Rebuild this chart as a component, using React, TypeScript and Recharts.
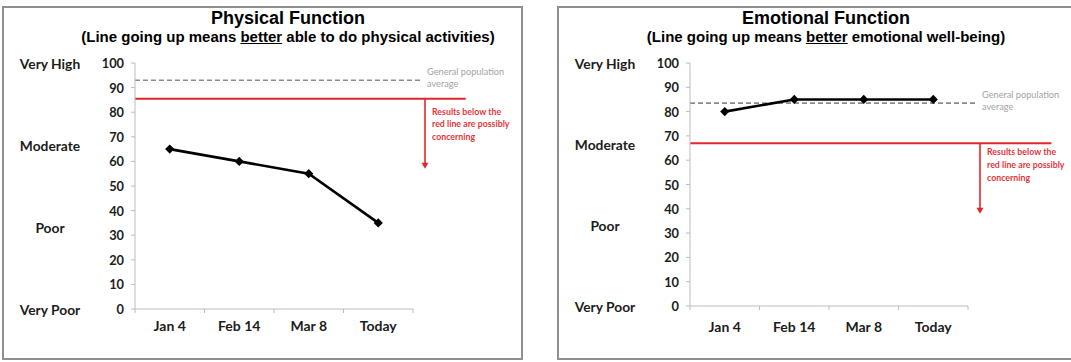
import React from 'react';
import { LineChart, Line, XAxis, YAxis, ReferenceLine, ReferenceArea } from 'recharts';

// Visit dates shown on the horizontal axis
const categories = ['Jan 4', 'Feb 14', 'Mar 8', 'Today'];

// Patient-reported scores per visit
const physicalScores = [65, 60, 55, 35];
const emotionalScores = [80, 85, 85, 85];

// Numeric score ticks and the qualitative level labels beside them
const scoreTicks = [0, 10, 20, 30, 40, 50, 60, 70, 80, 90, 100];
const levelTicks = [0, 100 / 3, 200 / 3, 100];
const levelLabels = ['Very Poor', 'Poor', 'Moderate', 'Very High'];

// Reference values for each scale
const physicalPopulationAverage = 93;
const physicalConcernThreshold = 85.5;
const physicalArrowEnd = 57;
const emotionalPopulationAverage = 83.5;
const emotionalConcernThreshold = 67;
const emotionalArrowEnd = 38;

// Annotation text
const populationNote = ['General population', 'average'];
const concernNote = ['Results below the', 'red line are possibly', 'concerning'];

const AXIS_COLOR = '#c2baba';
const TEXT_COLOR = '#1c1c1c';
const RED = '#e3262b';
const LABEL_FONT = 'Lato, "Open Sans", sans-serif';
const TITLE_FONT = '"Liberation Sans", Arial, sans-serif';

function ScoreTick(props: any) {
  const { x, y, payload } = props;
  return (
    <text
      x={x}
      y={y}
      textAnchor="end"
      dominantBaseline="central"
      fontFamily={LABEL_FONT}
      fontWeight={700}
      fontSize={12.8}
      fill={TEXT_COLOR}
    >
      {payload.value}
    </text>
  );
}

function LevelTick(props: any) {
  const { x, y, payload } = props;
  let idx = 0;
  levelTicks.forEach((t, i) => {
    if (Math.abs(t - payload.value) < Math.abs(levelTicks[idx] - payload.value)) idx = i;
  });
  return (
    <text
      x={x}
      y={y}
      textAnchor="middle"
      dominantBaseline="central"
      fontFamily={LABEL_FONT}
      fontWeight={700}
      fontSize={13.8}
      fill={TEXT_COLOR}
    >
      {levelLabels[idx]}
    </text>
  );
}

// Category label with Excel-style tick marks on the band boundaries
function makeCategoryTick(labelDy: number) {
  return function CategoryTick(props: any) {
    const { x, y, payload, index, visibleTicksCount, width } = props;
    let half = payload && typeof payload.offset === 'number' && payload.offset > 3 ? payload.offset : 0;
    if (!half && width && visibleTicksCount) half = width / visibleTicksCount / 2;
    return (
      <g>
        <line x1={x - half} x2={x - half} y1={y} y2={y + 4} stroke={AXIS_COLOR} strokeWidth={1} />
        {index === visibleTicksCount - 1 && (
          <line x1={x + half} x2={x + half} y1={y} y2={y + 4} stroke={AXIS_COLOR} strokeWidth={1} />
        )}
        <text
          x={x}
          y={y + labelDy}
          textAnchor="middle"
          dominantBaseline="central"
          fontFamily={LABEL_FONT}
          fontWeight={700}
          fontSize={14}
          fill={TEXT_COLOR}
        >
          {payload.value}
        </text>
      </g>
    );
  };
}

function Diamond(props: any) {
  const { cx, cy, index } = props;
  if (cx == null || cy == null) return null;
  const r = 4.6;
  return (
    <polygon
      key={`d-${index}`}
      points={`${cx},${cy - r} ${cx + r},${cy} ${cx},${cy + r} ${cx - r},${cy}`}
      fill="#000"
    />
  );
}

function makePopulationShape(extend: number) {
  return function PopulationShape(props: any) {
    const { x1, x2, y1 } = props;
    const end = x2 + extend;
    return (
      <g>
        <line x1={x1} x2={end} y1={y1} y2={y1} stroke="#8c8c8c" strokeWidth={1.6} strokeDasharray="5 3" />
        {populationNote.map((t, i) => (
          <text
            key={t}
            x={end + 5.6}
            y={y1 - 9 + i * 12.3}
            dominantBaseline="central"
            fontFamily={LABEL_FONT}
            fontSize={9.2}
            fill="#a3a3a3"
          >
            {t}
          </text>
        ))}
      </g>
    );
  };
}

function makeConcernLineShape(extend: number) {
  return function ConcernLineShape(props: any) {
    const { x1, x2, y1 } = props;
    return <line x1={x1} x2={x2 + extend} y1={y1} y2={y1} stroke={RED} strokeWidth={2} />;
  };
}

function makeConcernArrowShape(textDy: number) {
  return function ConcernArrowShape(props: any) {
    const { x, y, width, height } = props;
    const ax = x + width + 12;
    const bottom = y + height;
    return (
      <g>
        <line x1={ax} x2={ax} y1={y} y2={bottom - 5} stroke={RED} strokeWidth={1.6} />
        <polygon points={`${ax - 3.5},${bottom - 6} ${ax + 3.5},${bottom - 6} ${ax},${bottom}`} fill={RED} />
        {concernNote.map((t, i) => (
          <text
            key={t}
            x={ax + 7}
            y={y + textDy + i * 12.7}
            dominantBaseline="central"
            fontFamily={LABEL_FONT}
            fontWeight={700}
            fontSize={8.8}
            fill="#e5363b"
          >
            {t}
          </text>
        ))}
      </g>
    );
  };
}

interface FunctionChartProps {
  scores: number[];
  populationAverage: number;
  concernThreshold: number;
  arrowEnd: number;
  width: number;
  height: number;
  margin: { top: number; right: number; bottom: number; left: number };
  concernExtend: number;
  concernTextDy: number;
  labelDy: number;
}

function FunctionChart(p: FunctionChartProps) {
  const data = categories.map((c, i) => ({ category: c, score: p.scores[i] }));
  return (
    <LineChart width={p.width} height={p.height} data={data} margin={p.margin}>
      <XAxis
        dataKey="category"
        type="category"
        scale="band"
        height={30}
        interval={0}
        axisLine={{ stroke: AXIS_COLOR, strokeWidth: 1 }}
        tickLine={false}
        tickSize={0}
        tickMargin={0}
        tick={makeCategoryTick(p.labelDy)}
      />
      <YAxis
        type="number"
        domain={[0, 100]}
        ticks={scoreTicks}
        interval={0}
        width={47}
        axisLine={{ stroke: AXIS_COLOR, strokeWidth: 1 }}
        tickLine={{ stroke: AXIS_COLOR, strokeWidth: 1 }}
        tickSize={4}
        tickMargin={7}
        tick={ScoreTick}
      />
      <YAxis
        yAxisId="level"
        type="number"
        domain={[0, 100]}
        allowDataOverflow
        ticks={levelTicks}
        interval={0}
        width={85}
        axisLine={false}
        tickLine={false}
        tickSize={0}
        tickMargin={38}
        tick={LevelTick}
      />
      {/* anchors the level axis to the same 0-100 scale */}
      <ReferenceLine yAxisId="level" y={0} stroke="none" />
      <ReferenceLine y={p.populationAverage} shape={makePopulationShape(8.4)} />
      <ReferenceLine y={p.concernThreshold} shape={makeConcernLineShape(p.concernExtend)} />
      <ReferenceArea y1={p.arrowEnd} y2={p.concernThreshold} shape={makeConcernArrowShape(p.concernTextDy)} />
      <Line
        dataKey="score"
        stroke="#000"
        strokeWidth={2.6}
        dot={Diamond}
        activeDot={false}
        isAnimationActive={false}
      />
    </LineChart>
  );
}

function Title({ center, title, pre, post }: { center: number; title: string; pre: string; post: string }) {
  return (
    <>
      <div
        style={{
          position: 'absolute',
          left: center - 300,
          top: 7.7,
          width: 600,
          textAlign: 'center',
          fontFamily: TITLE_FONT,
          fontWeight: 700,
          fontSize: 18,
          lineHeight: '20px',
          color: '#000',
          whiteSpace: 'nowrap',
        }}
      >
        {title}
      </div>
      <div
        style={{
          position: 'absolute',
          left: center - 300,
          top: 27.5,
          width: 600,
          textAlign: 'center',
          fontFamily: TITLE_FONT,
          fontWeight: 700,
          fontSize: 15,
          lineHeight: '17px',
          color: '#000',
          whiteSpace: 'nowrap',
        }}
      >
        {pre}
        <u>better</u>
        {post}
      </div>
    </>
  );
}

const panelBorder: React.CSSProperties = {
  position: 'absolute',
  boxSizing: 'border-box',
  border: '2px solid #8f8f8f',
  background: '#fff',
};

export default function App() {
  return (
    <div
      style={{
        position: 'fixed',
        left: 0,
        top: 0,
        width: 1071,
        height: 362,
        overflow: 'hidden',
        background: '#fff',
      }}
    >
      <div style={{ ...panelBorder, left: 2, top: 6, width: 521, height: 354 }} />
      <div style={{ ...panelBorder, left: 557, top: 6, width: 530, height: 354 }} />

      <div style={{ position: 'absolute', left: 3, top: 7 }}>
        <FunctionChart
          scores={physicalScores}
          populationAverage={physicalPopulationAverage}
          concernThreshold={physicalConcernThreshold}
          arrowEnd={physicalArrowEnd}
          width={519}
          height={352}
          margin={{ top: 56, right: 109, bottom: 20, left: 0 }}
          concernExtend={52.7}
          concernTextDy={12.4}
          labelDy={16.7}
        />
      </div>
      <div style={{ position: 'absolute', left: 558, top: 7 }}>
        <FunctionChart
          scores={emotionalScores}
          populationAverage={emotionalPopulationAverage}
          concernThreshold={emotionalConcernThreshold}
          arrowEnd={emotionalArrowEnd}
          width={530}
          height={352}
          margin={{ top: 56, right: 120, bottom: 23, left: 0 }}
          concernExtend={83.4}
          concernTextDy={8.7}
          labelDy={20}
        />
      </div>

      <Title
        center={288}
        title="Physical Function"
        pre="(Line going up means "
        post=" able to do physical activities)"
      />
      <Title
        center={826}
        title="Emotional Function"
        pre="(Line going up means "
        post=" emotional well-being)"
      />
    </div>
  );
}
